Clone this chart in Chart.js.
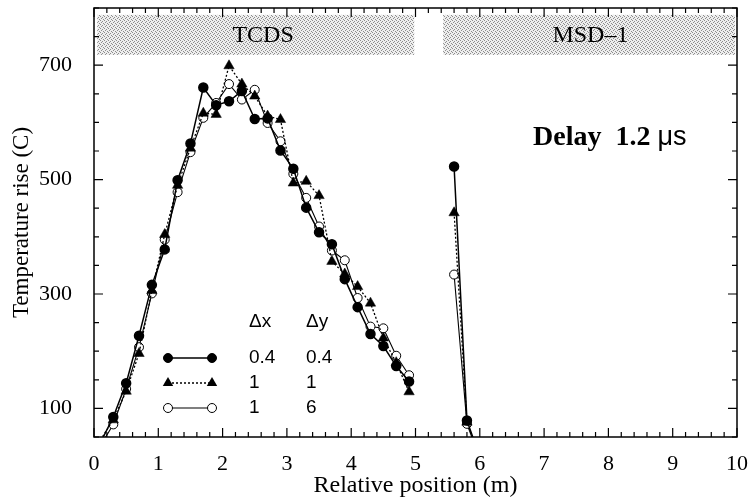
<!DOCTYPE html>
<html>
<head>
<meta charset="utf-8">
<script src="https://cdn.jsdelivr.net/npm/chart.js@4.4.0/dist/chart.umd.min.js"></script>
<style>
  html, body { margin: 0; padding: 0; background: #fff; }
  #wrap { width: 750px; height: 500px; position: relative; }
</style>
</head>
<body>
<div id="wrap"><canvas id="chart" width="750" height="500"></canvas></div>
<script>
// relative position (m); 5.2 is the gap between the two magnets
const positions = [0.1, 0.3, 0.5, 0.7, 0.9, 1.1, 1.3, 1.5, 1.7, 1.9, 2.1, 2.3, 2.5, 2.7, 2.9,
  3.1, 3.3, 3.5, 3.7, 3.9, 4.1, 4.3, 4.5, 4.7, 4.9, 5.2, 5.6, 5.8, 6.0];
// temperature rise (C) for the three mesh sizes
const mesh04 = [40, 85, 144, 227, 316, 378, 499, 563, 661, 630, 637, 655, 606, 607, 551,
  519, 451, 408, 387, 326, 277, 230, 209, 174, 147, null, 523, 79, 15];
const mesh11 = [45, 80, 130, 196, 306, 404, 490, 555, 616, 614, 699, 667, 646, 611, 605,
  494, 497, 472, 357, 335, 313, 284, 223, 180, 129, null, 442, 76, 14];
const mesh16 = [35, 72, 134, 207, 301, 395, 478, 548, 608, 634, 667, 640, 657, 599, 567,
  510, 468, 418, 376, 359, 293, 243, 240, 192, 158, null, 334, 73, 12];

const yLabels = [100, 300, 500, 700];
const legendRows = [['0.4', '0.4'], ['1', '1'], ['1', '6']];
const bands = [['TCDS', 0.05, 4.98], ['MSD\u20131', 5.43, 9.97]];

const toPoints = (vals) => positions.map((x, i) => ({ x, y: vals[i] }));
const hideBelow = (r) => (ctx) => (ctx.raw && ctx.raw.y < 50 ? 0 : r);

const serif = "'Liberation Serif', 'Times New Roman', serif";
const sans = "'Liberation Sans', Arial, sans-serif";

const makeStipple = (ctx) => {
  const c = document.createElement('canvas');
  c.width = 4; c.height = 4;
  const g = c.getContext('2d');
  g.fillStyle = '#eeeeee';
  g.fillRect(0, 0, 4, 4);
  g.fillStyle = '#8c8c8c';
  [[0, 0], [2, 1], [1, 2], [3, 3]].forEach(([px, py]) => g.fillRect(px, py, 1, 1));
  return ctx.createPattern(c, 'repeat');
};

// shaded magnet bands behind the curves
const bandPlugin = {
  id: 'bands',
  beforeDatasetsDraw(chart) {
    const { ctx, scales: { x, y } } = chart;
    ctx.save();
    ctx.fillStyle = makeStipple(ctx);
    const top = y.getPixelForValue(788), bot = y.getPixelForValue(718);
    bands.forEach(([label, a, b]) => {
      const l = x.getPixelForValue(a), r = x.getPixelForValue(b);
      ctx.fillRect(l, top, r - l, bot - top);
    });
    ctx.fillStyle = '#000';
    ctx.font = `24px ${serif}`;
    ctx.textAlign = 'center';
    ctx.textBaseline = 'middle';
    ctx.fillText('TCDS', x.getPixelForValue(2.63), (top + bot) / 2 + 1);
    ctx.fillText('MSD\u20131', x.getPixelForValue(7.72), (top + bot) / 2 + 1);
    ctx.restore();
  },
};

const marker = (ctx, style, px, py) => {
  ctx.beginPath();
  if (style === 'triangle') {
    const r = 6;
    ctx.moveTo(px, py - r);
    ctx.lineTo(px + r * 0.87, py + r * 0.5);
    ctx.lineTo(px - r * 0.87, py + r * 0.5);
    ctx.closePath();
    ctx.fillStyle = '#000';
    ctx.fill();
  } else {
    ctx.arc(px, py, 4.5, 0, Math.PI * 2);
    ctx.fillStyle = style === 'open' ? '#fff' : '#000';
    ctx.fill();
    ctx.lineWidth = 1;
    ctx.strokeStyle = '#000';
    ctx.stroke();
  }
};

// frame, inward ticks, legend and annotation
const framePlugin = {
  id: 'frame',
  afterDraw(chart) {
    const { ctx, chartArea: a, scales: { x, y } } = chart;
    ctx.save();
    ctx.strokeStyle = '#000';
    ctx.lineWidth = 1.5;
    ctx.strokeRect(a.left, a.top, a.right - a.left, a.bottom - a.top);

    ctx.lineWidth = 1.2;
    ctx.beginPath();
    x.ticks.forEach((t) => {
      const px = x.getPixelForValue(t.value);
      const len = t.label ? 9 : 5;
      ctx.moveTo(px, a.bottom); ctx.lineTo(px, a.bottom - len);
      ctx.moveTo(px, a.top); ctx.lineTo(px, a.top + len);
    });
    y.ticks.forEach((t) => {
      const py = y.getPixelForValue(t.value);
      const len = t.label ? 9 : 5;
      ctx.moveTo(a.left, py); ctx.lineTo(a.left + len, py);
      ctx.moveTo(a.right, py); ctx.lineTo(a.right - len, py);
    });
    ctx.stroke();

    // legend
    const lx0 = 168, lx1 = 212, c1 = 249, c2 = 306;
    ctx.fillStyle = '#000';
    ctx.font = `19px ${sans}`;
    ctx.textAlign = 'left';
    ctx.textBaseline = 'middle';
    ctx.fillText('\u0394x', c1, 322);
    ctx.fillText('\u0394y', c2, 322);
    const styles = [['filled', [], 1.5], ['triangle', [2, 2], 1.3], ['open', [], 1.1]];
    legendRows.forEach((row, i) => {
      const ly = 358 + i * 25;
      const [mk, dash, lw] = styles[i];
      ctx.save();
      ctx.setLineDash(dash);
      ctx.lineWidth = lw;
      ctx.strokeStyle = '#000';
      ctx.beginPath();
      ctx.moveTo(lx0, ly); ctx.lineTo(lx1, ly);
      ctx.stroke();
      ctx.restore();
      marker(ctx, mk, lx0, ly);
      marker(ctx, mk, lx1, ly);
      ctx.fillStyle = '#000';
      ctx.fillText(row[0], c1, ly);
      ctx.fillText(row[1], c2, ly);
    });

    // delay annotation
    ctx.textBaseline = 'alphabetic';
    ctx.font = `bold 28px ${serif}`;
    const head = 'Delay  1.2 ';
    ctx.fillText(head, 533, 145);
    const w = ctx.measureText(head).width;
    ctx.font = `27px ${sans}`;
    ctx.fillText('\u03bcs', 533 + w, 145);
    ctx.restore();
  },
};

const noPad = (s) => { s.paddingTop = 0; s.paddingBottom = 0; s.paddingLeft = 0; s.paddingRight = 0; };

new Chart(document.getElementById('chart'), {
  type: 'line',
  data: {
    datasets: [
      {
        label: '0.4 0.4',
        data: toPoints(mesh04),
        borderColor: '#000',
        borderWidth: 1.5,
        pointStyle: 'circle',
        pointRadius: hideBelow(4.5),
        pointBackgroundColor: '#000',
        pointBorderColor: '#000',
        tension: 0,
      },
      {
        label: '1 1',
        data: toPoints(mesh11),
        borderColor: '#000',
        borderWidth: 1.3,
        borderDash: [2, 2],
        pointStyle: 'triangle',
        pointRadius: hideBelow(6),
        pointBackgroundColor: '#000',
        pointBorderColor: '#000',
        pointBorderWidth: 0.5,
        tension: 0,
      },
      {
        label: '1 6',
        data: toPoints(mesh16),
        borderColor: '#000',
        borderWidth: 1.1,
        pointStyle: 'circle',
        pointRadius: hideBelow(4.5),
        pointBackgroundColor: '#fff',
        pointBorderColor: '#000',
        pointBorderWidth: 1,
        tension: 0,
      },
    ],
  },
  options: {
    responsive: false,
    animation: false,
    events: [],
    layout: { padding: { top: 8, right: 13, left: 0, bottom: 0 } },
    plugins: { legend: { display: false }, tooltip: { enabled: false } },
    scales: {
      x: {
        type: 'linear',
        min: 0,
        max: 10,
        grid: { display: false },
        border: { display: false },
        ticks: {
          stepSize: 0.2,
          autoSkip: false,
          maxRotation: 0,
          maxTicksLimit: 100,
          padding: 6,
          color: '#000',
          font: { family: serif, size: 22 },
          callback: (v) => (Math.abs(v - Math.round(v)) < 1e-6 ? String(Math.round(v)) : ''),
        },
        title: {
          display: true,
          text: 'Relative position (m)',
          color: '#000',
          font: { family: serif, size: 24 },
          padding: { top: 0, bottom: 0 },
        },
        afterFit: (s) => { s.height = 63; noPad(s); },
      },
      y: {
        min: 50,
        max: 800,
        grid: { display: false },
        border: { display: false },
        ticks: {
          stepSize: 50,
          autoSkip: false,
          padding: 14,
          color: '#000',
          font: { family: serif, size: 22 },
          callback: (v) => (yLabels.includes(v) ? String(v) : ''),
        },
        title: {
          display: true,
          text: 'Temperature rise (C)',
          color: '#000',
          font: { family: serif, size: 23 },
          padding: { top: 8, bottom: 0 },
        },
        afterFit: (s) => { s.width = 94; noPad(s); },
      },
    },
  },
  plugins: [bandPlugin, framePlugin],
});
</script>
</body>
</html>
